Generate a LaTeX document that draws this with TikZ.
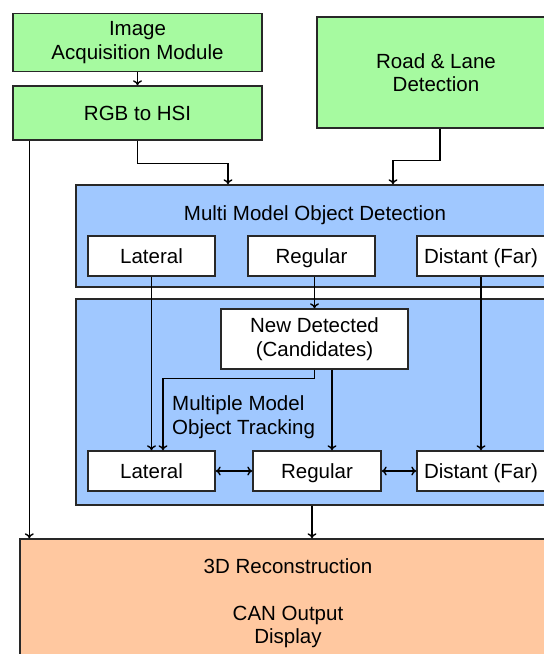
\documentclass[tikz,border=0pt]{standalone}
\usepackage{fontspec}
\setmainfont{Liberation Sans}
\usetikzlibrary{arrows.meta}
\definecolor{boxgreen}{RGB}{166,250,160}
\definecolor{boxblue}{RGB}{160,200,255}
\definecolor{boxorange}{RGB}{255,200,160}
\definecolor{edge}{RGB}{40,40,40}
\tikzset{
  blk/.style={draw=edge, line width=1.4pt, rectangle, inner sep=0pt, align=center,
    font=\fontsize{20.5}{23.5}\selectfont},
  oneline/.style={text height=15.5pt, text depth=0pt},
  greenbox/.style={blk, fill=boxgreen},
  bluebox/.style={blk, fill=boxblue},
  whitebox/.style={blk, fill=white, minimum width=127pt, minimum height=40pt},
  orangebox/.style={blk, fill=boxorange},
  lbl/.style={inner sep=0pt, align=center, font=\fontsize{20.5}{23.5}\selectfont},
  arr/.style={draw=black, line width=1.4pt, -{To[length=5pt,width=9pt]}},
  dblarr/.style={draw=black, line width=1.4pt, {To[length=5pt,width=9pt]}-{To[length=5pt,width=9pt]}}
}
\begin{document}
\begin{tikzpicture}[x=1pt, y=-1pt]
\useasboundingbox (0,0) rectangle (544,654);
\clip (0,0) rectangle (544,654);

% input stage
\node[greenbox, minimum width=249pt, minimum height=58pt] (acq) at (137.5,42.5) {Image\\Acquisition Module};
\node[greenbox, oneline, minimum width=249pt, minimum height=54pt] (rgb) at (137.5,113) {RGB to HSI};
\node[greenbox, minimum width=238pt, minimum height=111pt] (road) at (436,72.5) {Road \& Lane\\Detection};

% detection group
\node[bluebox, minimum width=478pt, minimum height=102pt] (detgrp) at (315,236) {};
\node[lbl, oneline] (dettitle) at (315,213) {Multi Model Object Detection};
\node[whitebox, oneline] (dlat) at (151.5,256) {Lateral};
\node[whitebox, oneline] (dreg) at (311.5,256) {Regular};
\node[whitebox, oneline, minimum width=128pt] (ddist) at (481,256) {Distant (Far)};

% tracking group
\node[bluebox, minimum width=478pt, minimum height=206pt] (trkgrp) at (315,402) {};
\node[whitebox, minimum width=187pt, minimum height=60pt] (newdet) at (314.5,339) {New Detected\\(Candidates)};
\node[lbl, align=left, anchor=west] (trktitle) at (172,417) {Multiple Model\\Object Tracking};
\node[whitebox, oneline] (tlat) at (151.5,471) {Lateral};
\node[whitebox, oneline, minimum width=128pt] (treg) at (317,471) {Regular};
\node[whitebox, oneline, minimum width=128pt] (tdist) at (481,471) {Distant (Far)};

% output stage
\node[orangebox, minimum width=536pt, minimum height=128pt] (recon) at (288,603)
  {3D Reconstruction\\[23.5pt]CAN Output\\Display};

% connectors
\draw[arr] (acq.south) -- (rgb.north);
\draw[arr] (rgb.south) -- ++(0,23) -| ([xshift=-87pt]detgrp.north);
\draw[arr] ([xshift=4pt]road.south) -- ++(0,32) -| ([xshift=78pt]detgrp.north);
\draw[arr] ([xshift=17pt]rgb.south west) -- ([xshift=10pt]recon.north west);

\draw[arr] (newdet.north |- dreg.south) -- (newdet.north);
\draw[arr] (dlat.south) -- (tlat.north);
\draw[arr] (ddist.south) -- (tdist.north);

\draw[arr] (newdet.south) -- ++(0,9) -| ([xshift=11.5pt]tlat.north);
\draw[arr] ([xshift=17.5pt]newdet.south) -- ([xshift=17.5pt]newdet.south |- treg.north);

\draw[dblarr] (tlat.east) -- (treg.west);
\draw[dblarr] (treg.east) -- (tdist.west);

\draw[arr] ([xshift=-3pt]trkgrp.south) -- ([xshift=-3pt]trkgrp.south |- recon.north);
\end{tikzpicture}
\end{document}
